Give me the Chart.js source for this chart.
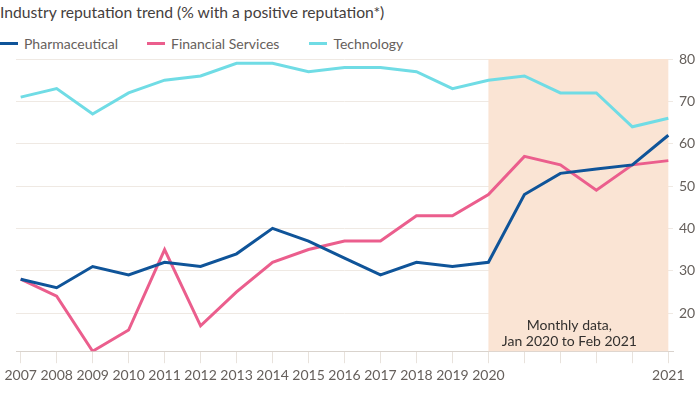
<!DOCTYPE html>
<html>
<head>
<meta charset="utf-8">
<script src="https://cdn.jsdelivr.net/npm/chart.js@4/dist/chart.umd.min.js"></script>
<style>
  body { margin: 0; background: #fff; }
  #wrap { position: relative; width: 698px; height: 393px; font-family: Lato, sans-serif; }
  #title { position: absolute; left: 0; top: 3px; font-size: 15.7px; color: #45403d; white-space: nowrap; }
  #legend { position: absolute; left: 0; top: 35px; display: flex; font-size: 14px; color: #66605c; }
  .item { display: flex; align-items: center; white-space: nowrap; }
  .swatch { width: 18px; height: 3px; margin-right: 6px; }
  canvas { position: absolute; left: 0; top: 0; }
</style>
</head>
<body>
<div id="wrap">
  <div id="title">Industry reputation trend (% with a positive reputation*)</div>
  <div id="legend"></div>
  <canvas id="myChart" width="698" height="393"></canvas>
</div>
<script>
// 2007-2020 yearly, then monthly points up to Feb 2021
const labels = ['2007', '2008', '2009', '2010', '2011', '2012', '2013', '2014', '2015', '2016',
  '2017', '2018', '2019', '2020', '', '', '', '', '2021'];
const pharma = [28, 26, 31, 29, 32, 31, 34, 40, 37, 33, 29, 32, 31, 32, 48, 53, 54, 55, 62];
const financial = [28, 24, 11, 16, 35, 17, 25, 32, 35, 37, 37, 43, 43, 48, 57, 55, 49, 55, 56];
const technology = [71, 73, 67, 72, 75, 76, 79, 79, 77, 78, 78, 77, 73, 75, 76, 72, 72, 64, 66];
const yTicks = [20, 30, 40, 50, 60, 70, 80];
const series = [
  { name: 'Pharmaceutical', values: pharma, color: '#0f5499' },
  { name: 'Financial Services', values: financial, color: '#eb5e8d' },
  { name: 'Technology', values: technology, color: '#70dce5' }
];
const monthlyStart = 13; // index of 2020
const monthlyEnd = labels.length - 1;

// html legend
const legend = document.getElementById('legend');
const gaps = [29, 30, 0];
series.forEach((s, i) => {
    const item = document.createElement('div');
    item.className = 'item';
    item.style.marginRight = gaps[i] + 'px';
    item.innerHTML = '<span class="swatch" style="background:' + s.color + '"></span>' + s.name;
    legend.appendChild(item);
});

const monthlyBand = {
    id: 'monthlyBand',
    beforeDatasetsDraw(chart) {
        const { ctx, chartArea, scales } = chart;
        const x0 = scales.x.getPixelForValue(monthlyStart);
        const x1 = scales.x.getPixelForValue(monthlyEnd);
        ctx.save();
        ctx.fillStyle = '#fae4d4';
        ctx.fillRect(x0, chartArea.top, x1 - x0, chartArea.bottom - chartArea.top);
        ctx.fillStyle = '#33302e';
        ctx.font = '14px Lato';
        ctx.textAlign = 'center';
        ctx.textBaseline = 'middle';
        const cx = scales.x.getPixelForValue(15.25);
        ctx.fillText('Monthly data,', cx, chartArea.bottom - 26);
        ctx.fillText('Jan 2020 to Feb 2021', cx, chartArea.bottom - 10);
        ctx.restore();
    }
};

const ctx = document.getElementById('myChart').getContext('2d');
new Chart(ctx, {
    type: 'line',
    data: {
        datasets: series.map(s => ({
            label: s.name,
            data: s.values.map((v, i) => ({ x: i, y: v })),
            borderColor: s.color,
            backgroundColor: s.color,
            borderWidth: 3,
            pointRadius: 0,
            tension: 0
        }))
    },
    options: {
        responsive: false,
        animation: false,
        layout: { padding: { left: 16, right: 0, top: 59, bottom: 5 } },
        plugins: { legend: { display: false }, title: { display: false }, tooltip: { enabled: false } },
        scales: {
            x: {
                type: 'linear',
                min: -0.13,
                max: monthlyEnd + 0.13,
                afterBuildTicks: (scale) => { scale.ticks = labels.map((l, i) => ({ value: i })); },
                grid: { drawOnChartArea: false, drawTicks: true, tickLength: 12, color: '#e8e2dc' },
                border: { display: true, color: '#d9d3cd' },
                ticks: {
                    autoSkip: false,
                    maxRotation: 0,
                    padding: 4,
                    color: '#66605c',
                    font: { family: 'Lato', size: 14 },
                    callback: (v) => labels[v]
                }
            },
            y: {
                position: 'right',
                min: 11,
                max: 80,
                afterBuildTicks: (scale) => { scale.ticks = yTicks.map(v => ({ value: v })); },
                afterFit: (scale) => { scale.width = 25; },
                grid: { drawTicks: false, color: '#efe9e3' },
                border: { display: false },
                ticks: {
                    padding: 6,
                    color: '#66605c',
                    font: { family: 'Lato', size: 14 }
                }
            }
        }
    },
    plugins: [monthlyBand]
});
</script>
</body>
</html>
